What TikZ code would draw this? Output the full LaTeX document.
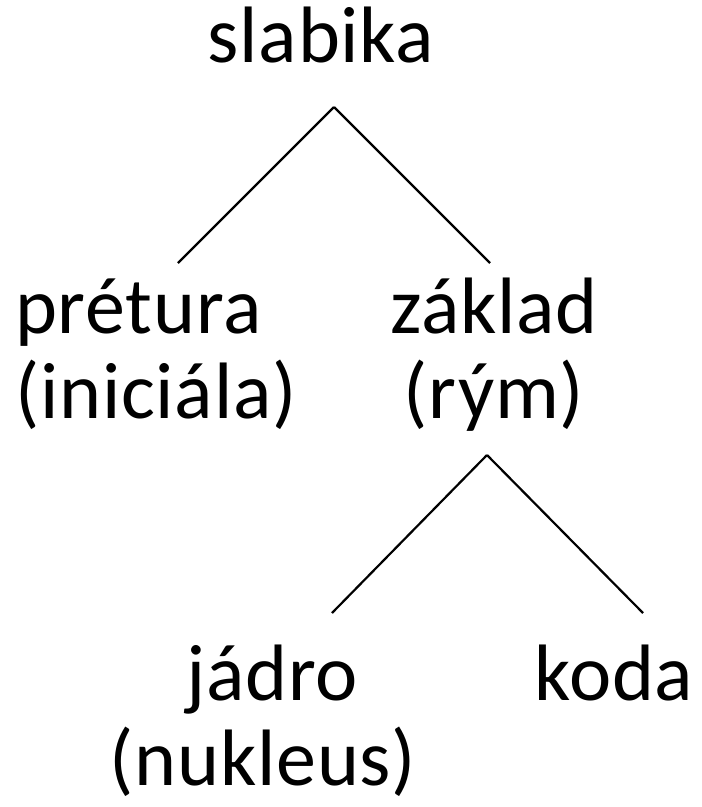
\documentclass[tikz,border=0pt]{standalone}
\usepackage{fontspec}
\setmainfont[LetterSpace=1]{Carlito}
\usepackage{tikz}
\usetikzlibrary{positioning}
\tikzstyle{branch} = [line width=2.2pt]

\begin{document}
\begin{tikzpicture}[x=1pt, y=-1pt, every node/.style={font=\fontsize{80}{85}\selectfont, inner sep=0pt, anchor=base}]
        \useasboundingbox (0,0) rectangle (702,807);
        % Node positions (multi-line nodes sit on their last baseline)
        \node (slabika) at (321,62) {slabika};
        \node[align=left, anchor=base west] (pretura) at (15,418) {prétura\\(iniciála)};
        \node[align=center] (zaklad) at (494,418) {základ\\(rým)};
        \node[align=center] (jadro) at (263,785) {\hspace*{18pt}jádro\\(nukleus)};
        \node (koda) at (614,700) {koda};

        % Branch ends
        \coordinate (S) at (334,107);
        \coordinate (P) at (178,263);
        \coordinate (Z) at (490,263);
        \coordinate (R) at (487,455);
        \coordinate (J) at (332,613);
        \coordinate (K) at (643,613);

        \draw[branch] (S) -- (P);
        \draw[branch] (S) -- (Z);
        \draw[branch] (R) -- (J);
        \draw[branch] (R) -- (K);
      \end{tikzpicture}
\end{document}
